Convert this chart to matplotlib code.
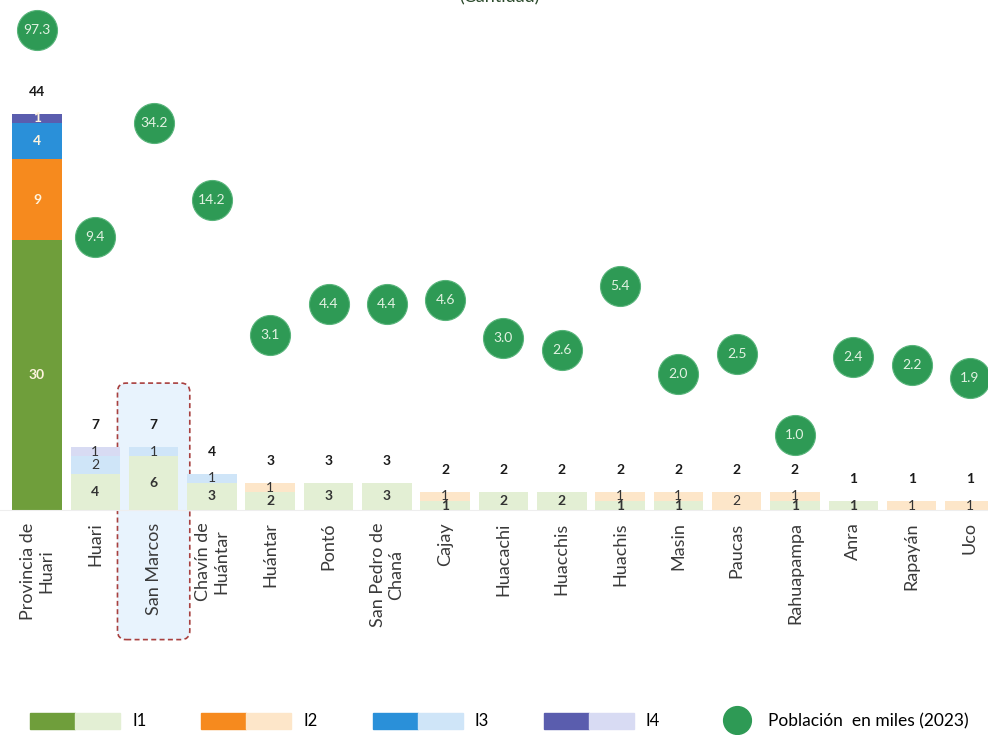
import numpy as np
import matplotlib
matplotlib.use("Agg")
from matplotlib import pyplot as plt
from matplotlib.patches import Patch, FancyBboxPatch
from matplotlib.lines import Line2D
from matplotlib.legend_handler import HandlerTuple

plt.rcParams['font.family'] = ['Lato', 'DejaVu Sans']

# distritos de la provincia de Huari
distritos = ["Provincia de\nHuari", "Huari", "San Marcos", "Chavín de\nHuántar", "Huántar",
             "Pontó", "San Pedro de\nChaná", "Cajay", "Huacachi", "Huacchis", "Huachis",
             "Masin", "Paucas", "Rahuapampa", "Anra", "Rapayán", "Uco"]

# cantidad por nivel
i1 = [30, 4, 6, 3, 2, 3, 3, 1, 2, 2, 1, 1, 0, 1, 1, 0, 0]
i2 = [9, 0, 0, 0, 1, 0, 0, 1, 0, 0, 1, 1, 2, 1, 0, 1, 1]
i3 = [4, 2, 1, 1, 0, 0, 0, 0, 0, 0, 0, 0, 0, 0, 0, 0, 0]
i4 = [1, 1, 0, 0, 0, 0, 0, 0, 0, 0, 0, 0, 0, 0, 0, 0, 0]

# poblacion en miles (2023)
poblacion = [97.3, 9.4, 34.2, 14.2, 3.1, 4.4, 4.4, 4.6, 3.0, 2.6, 5.4, 2.0, 2.5, 1.0, 2.4, 2.2, 1.9]

niveles = ["I1", "I2", "I3", "I4"]
oscuros = ["#6f9e3b", "#f68a1e", "#2a90d9", "#5a5dae"]
claros = ["#e3efd4", "#fde6c9", "#cfe5f8", "#d8dbf3"]
verde_burbuja = "#2e9a55"

fig = plt.figure(figsize=(9.88, 7.35), dpi=100)
ax = fig.add_axes([0, 225 / 735, 1, 510 / 735])
ax.set_xlim(-0.635, 16.31)
ax.set_ylim(0, 510 / 9)

x = np.arange(len(distritos))
series = [i1, i2, i3, i4]
base = np.zeros(len(distritos))

for k, vals in enumerate(series):
    vals = np.array(vals)
    colores = [oscuros[k] if j == 0 else claros[k] for j in range(len(x))]
    ax.bar(x, vals, width=0.85, bottom=base, color=colores, zorder=2)
    for j, v in enumerate(vals):
        if v > 0:
            ax.text(j, base[j] + v / 2, str(v), ha="center", va="center",
                    fontsize=10, color="#fff4de" if j == 0 else "#333333",
                    fontweight="bold" if j == 0 or k == 0 else "normal", zorder=3)
    base = base + vals

# total encima de cada barra
for j, t in enumerate(base):
    ax.annotate(str(int(t)), (j, t), xytext=(0, 16), textcoords="offset points",
                ha="center", va="center", fontsize=10, fontweight="bold", color="#1a1a1a")

# resaltado de San Marcos
idx = distritos.index("San Marcos")
caja = FancyBboxPatch((idx - 0.62, -14.4), 1.24, 28.5,
                      boxstyle="round,pad=0,rounding_size=0.15", mutation_aspect=6.48,
                      facecolor="#e8f3fd", edgecolor="#a8403f", linewidth=1.2,
                      linestyle=(0, (3, 2)), clip_on=False, zorder=1)
ax.add_patch(caja)

ax.set_xticks(x, distritos, rotation=90, fontsize=13, color="#3a3a3a", multialignment="center")
ax.tick_params(axis="x", length=0, pad=9)
ax.set_yticks([])
for s in ["top", "right", "left"]:
    ax.spines[s].set_visible(False)
ax.spines["bottom"].set_color("#eeeeee")

# burbujas de poblacion en eje secundario
ax2 = ax.twinx()
ax2.set_yscale("log")
ax2.set_ylim(0.427, 136.8)
ax2.scatter(x, poblacion, s=830, color=verde_burbuja, edgecolor="#58b47a", linewidth=0.8, zorder=4)
for j, p in enumerate(poblacion):
    ax2.text(j, p, f"{p:.1f}", ha="center", va="center", fontsize=10, color="#e2f2e2", zorder=5)
ax2.set_yticks([])
ax2.minorticks_off()
for s in ax2.spines.values():
    s.set_visible(False)

fig.text(0.505, 1.004, "(Cantidad)", ha="center", va="center", fontsize=13, color="#2b4a2b")

# leyendas
handles = [(Patch(color=oscuros[k]), Patch(color=claros[k])) for k in range(4)]
fig.legend(handles, niveles, handler_map={tuple: HandlerTuple(ndivide=None, pad=0)},
           loc="center left", bbox_to_anchor=(30 / 988, 14 / 735), ncol=4, frameon=False,
           handlelength=5.4, handleheight=1.08, handletextpad=0.72, columnspacing=3.3,
           fontsize=12, borderpad=0, borderaxespad=0)
burbuja = Line2D([], [], marker="o", linestyle="none", markersize=20,
                 markerfacecolor=verde_burbuja, markeredgecolor=verde_burbuja)
fig.legend([burbuja], ["Población  en miles (2023)"], loc="center left",
           bbox_to_anchor=(725 / 988, 14 / 735), frameon=False, handlelength=1.4,
           handletextpad=1.1, fontsize=12.5, borderpad=0, borderaxespad=0)

fig.savefig("out.png", dpi=100)
